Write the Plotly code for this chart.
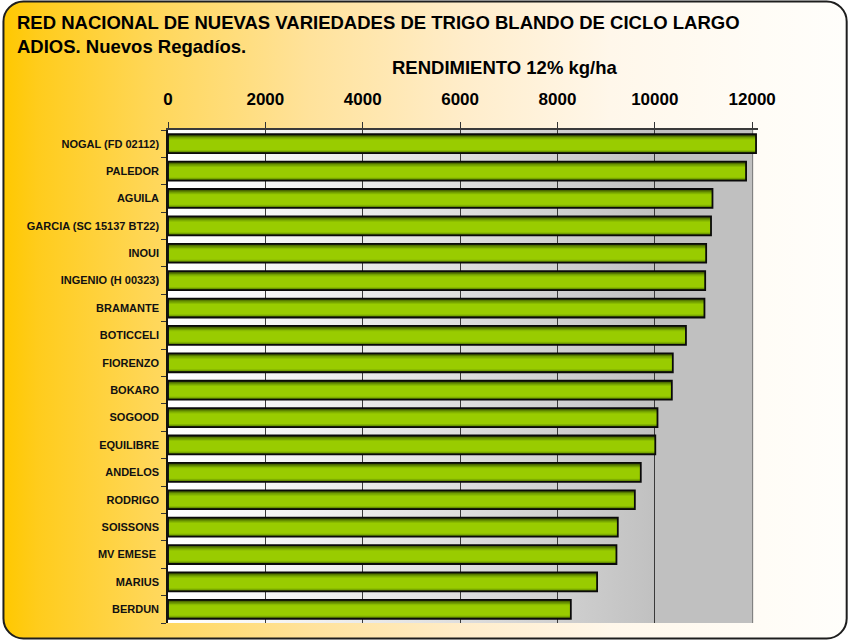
import base64
import plotly.graph_objects as go

# ---------------- data ----------------
varieties = [
    "NOGAL (FD 02112)", "PALEDOR", "AGUILA", "GARCIA (SC 15137 BT22)", "INOUI",
    "INGENIO (H 00323)", "BRAMANTE", "BOTICCELI", "FIORENZO", "BOKARO",
    "SOGOOD", "EQUILIBRE", "ANDELOS", "RODRIGO", "SOISSONS",
    "MV EMESE\u00a0", "MARIUS", "BERDUN",
]
yield_kg_ha = [
    12080, 11875, 11185, 11155, 11055,
    11035, 11020, 10640, 10370, 10350,
    10055, 10010, 9712, 9590, 9240,
    9212, 8815, 8275,
]
x_tick_values = [0, 2000, 4000, 6000, 8000, 10000, 12000]
title_lines = ["RED NACIONAL DE NUEVAS VARIEDADES DE TRIGO BLANDO DE CICLO LARGO",
               "ADIOS. Nuevos Regadíos."]
axis_title = "RENDIMIENTO 12% kg/ha"

# ---------------- geometry ----------------
W, H = 850, 641
L, R, T, B = 168, 752, 130, 623          # pixel box of the 0..12000 frame
AX_MAX = 12000
AX_EXT = 12120                           # axis range a bit wider so the top bar can overflow
PW = (R - L) * AX_EXT / AX_MAX           # plot width in px
FONT = "Liberation Sans, Arial, sans-serif"
n = len(varieties)


def px_x(px):
    return (px - L) / PW


def px_y(py):
    return (B - py) / (B - T)


def svg_uri(svg):
    return "data:image/svg+xml;base64," + base64.b64encode(svg.encode("utf-8")).decode("ascii")


# figure background: rounded frame with horizontal yellow -> white gradient
bg_svg = (
    '<svg xmlns="http://www.w3.org/2000/svg" width="850" height="641" viewBox="0 0 850 641">'
    '<defs><linearGradient id="g" x1="0" y1="0" x2="1" y2="0">'
    '<stop offset="0" stop-color="#FFC800"/>'
    '<stop offset="0.04" stop-color="#FFCC1C"/>'
    '<stop offset="0.18" stop-color="#FFD75A"/>'
    '<stop offset="0.36" stop-color="#FFE29A"/>'
    '<stop offset="0.55" stop-color="#FFEDCB"/>'
    '<stop offset="0.72" stop-color="#FFF7EA"/>'
    '<stop offset="0.9" stop-color="#FFFCF6"/>'
    '<stop offset="1" stop-color="#FFFEFB"/>'
    '</linearGradient></defs>'
    '<rect x="0" y="0" width="850" height="641" fill="white"/>'
    '<rect x="3.5" y="1.5" width="843" height="637" rx="20" ry="20" fill="url(#g)" '
    'stroke="#1e1e1e" stroke-width="2"/>'
    '</svg>'
)

# plot area: white -> gray gradient
pa_svg = (
    '<svg xmlns="http://www.w3.org/2000/svg" width="600" height="100" viewBox="0 0 600 100" '
    'preserveAspectRatio="none">'
    '<defs><linearGradient id="p" x1="0" y1="0" x2="1" y2="0">'
    '<stop offset="0" stop-color="#FFFFFF"/>'
    '<stop offset="0.2" stop-color="#F4F4F4"/>'
    '<stop offset="0.45" stop-color="#E2E2E2"/>'
    '<stop offset="0.67" stop-color="#D0D0D0"/>'
    '<stop offset="0.8" stop-color="#C4C4C4"/>'
    '<stop offset="0.84" stop-color="#C0C0C0"/>'
    '<stop offset="1" stop-color="#C0C0C0"/>'
    '</linearGradient></defs>'
    '<rect x="0" y="0" width="600" height="100" fill="url(#p)"/>'
    '</svg>'
)

images = [
    dict(source=svg_uri(bg_svg), xref="paper", yref="paper",
         x=px_x(0), y=px_y(0), sizex=W / PW, sizey=H / (B - T),
         xanchor="left", yanchor="top", sizing="stretch", layer="below"),
    dict(source=svg_uri(pa_svg), xref="x", yref="y",
         x=0, y=-0.5, sizex=AX_MAX, sizey=n,
         xanchor="left", yanchor="top", sizing="stretch", layer="below"),
]

shapes = [
    dict(type="line", xref="x", yref="y", x0=AX_MAX, x1=AX_MAX, y0=-0.5, y1=n - 0.5,
         line=dict(color="#808080", width=2), layer="below"),
    dict(type="line", xref="x", yref="y", x0=0, x1=AX_MAX, y0=n - 0.5, y1=n - 0.5,
         line=dict(color="#8a8a8a", width=2), layer="below"),
]

# ---------------- bars ----------------
ypos = list(range(n))
fig = go.Figure()
layers = [
    (0.69, 0.0, "#3a5200"),
    (0.61, 0.015, "#587a00"),
    (0.54, 0.025, "#72a000"),
    (0.46, 0.035, "#8abb00"),
    (0.38, 0.04, "#99cc00"),
]
for w, shift, c in layers:
    fig.add_trace(go.Bar(x=yield_kg_ha, y=ypos, orientation="h", width=w,
                         offset=-w / 2 + shift,
                         marker=dict(color=c, line=dict(width=0)),
                         hoverinfo="skip", showlegend=False))
fig.add_trace(go.Bar(x=yield_kg_ha, y=ypos, orientation="h", width=0.69,
                     marker=dict(color="rgba(0,0,0,0)", line=dict(color="#0a0a0a", width=1.8)),
                     showlegend=False,
                     hovertemplate="%{text}: %{x}<extra></extra>", text=varieties,
                     textposition="none"))

fig.update_layout(
    width=W, height=H,
    margin=dict(l=L, r=round(W - L - PW), t=T, b=H - B, pad=0),
    paper_bgcolor="white",
    plot_bgcolor="rgba(0,0,0,0)",
    barmode="overlay",
    shapes=shapes,
    images=images,
    font=dict(family=FONT, color="black"),
    xaxis=dict(
        side="top", range=[0, AX_EXT], tickvals=x_tick_values,
        ticktext=[str(v) for v in x_tick_values],
        tickfont=dict(size=17, weight="bold", color="black", family=FONT),
        ticks="outside", ticklen=6, tickcolor="#333", tickwidth=1,
        ticklabelstandoff=10,
        showgrid=False,
        minor=dict(tickvals=x_tick_values[1:-1], ticks="", showgrid=True,
                   gridcolor="#3a3a3a", gridwidth=1),
        showline=True, linecolor="#3a3a3a", linewidth=2,
        zeroline=False, fixedrange=True,
    ),
    yaxis=dict(
        range=[n - 0.5, -0.5], tickvals=ypos, ticktext=varieties,
        tickfont=dict(size=11, weight="bold", color="#111", family=FONT),
        ticks="outside", ticklen=5, tickcolor="rgba(0,0,0,0)",
        minor=dict(tickvals=[i - 0.5 for i in range(n + 1)], ticks="outside",
                   ticklen=5, tickcolor="#333", tickwidth=1, showgrid=False),
        showgrid=False, showline=True, linecolor="#111", linewidth=1.5,
        zeroline=False, fixedrange=True,
    ),
    annotations=[
        dict(text="<b>" + "<br>".join(title_lines) + "</b>", xref="paper", yref="paper",
             x=px_x(15), y=px_y(10), xanchor="left", yanchor="top", align="left",
             showarrow=False, font=dict(size=18.5, color="black", family=FONT)),
        dict(text="<b>" + axis_title + "</b>", xref="paper", yref="paper",
             x=px_x(505), y=px_y(68), xanchor="center", yanchor="middle",
             showarrow=False, font=dict(size=18.5, color="black", family=FONT)),
    ],
)

fig.write_html("out.html", config={"displayModeBar": False},
               post_script="document.body.style.margin='0';document.body.style.padding='0';")
